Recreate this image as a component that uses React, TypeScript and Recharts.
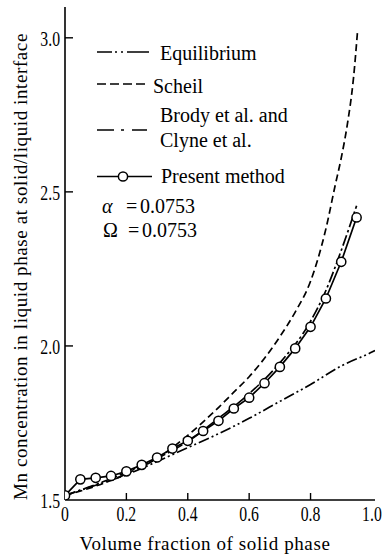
import React from 'react';
import { LineChart, Line, XAxis, YAxis, Legend } from 'recharts';

// ---- data ----
const fsEquilibrium = [0, 0.1, 0.2, 0.3, 0.4, 0.5, 0.6, 0.7, 0.8, 0.9, 1.0, 1.01];
const cEquilibrium = [1.515, 1.548, 1.582, 1.625, 1.67, 1.715, 1.765, 1.82, 1.875, 1.935, 1.98, 1.985];

const fsScheil = [0, 0.1, 0.2, 0.3, 0.4, 0.5, 0.55, 0.6, 0.65, 0.7, 0.75, 0.8, 0.85, 0.88, 0.9, 0.92, 0.94, 0.953];
const cScheil = [1.515, 1.545, 1.585, 1.635, 1.71, 1.8, 1.85, 1.9, 1.96, 2.03, 2.11, 2.21, 2.38, 2.52, 2.61, 2.72, 2.87, 3.02];

const fsBrody = [0, 0.1, 0.2, 0.3, 0.4, 0.5, 0.6, 0.7, 0.8, 0.85, 0.9, 0.95];
const cBrody = [1.515, 1.55, 1.59, 1.635, 1.69, 1.765, 1.845, 1.945, 2.08, 2.18, 2.31, 2.455];

const fsPresent = [0, 0.05, 0.1, 0.15, 0.2, 0.25, 0.3, 0.35, 0.4, 0.45, 0.5, 0.55, 0.6, 0.65, 0.7, 0.75, 0.8, 0.85, 0.9, 0.95];
const cPresent = [1.515, 1.567, 1.572, 1.578, 1.593, 1.614, 1.638, 1.667, 1.692, 1.724, 1.757, 1.797, 1.832, 1.879, 1.932, 1.992, 2.062, 2.154, 2.273, 2.417];

const xTicks = [0, 0.2, 0.4, 0.6, 0.8, 1.0];
const xTickLabels = ['0', '0.2', '0.4', '0.6', '0.8', '1.0'];
const yTicks = [1.5, 2.0, 2.5, 3.0];
const yTickLabels = ['1.5', '2.0', '2.5', '3.0'];

const seriesNames = ['Equilibrium', 'Scheil', 'Brody et al. and Clyne et al.', 'Present method'];
const alphaText = '0.0753';
const omegaText = '0.0753';
const xTitle = 'Volume fraction of solid phase';
const yTitle = 'Mn concentration in liquid phase at solid/liquid interface';

const toPoints = (xs: number[], ys: number[]) => xs.map((x, i) => ({ x, y: ys[i] }));

const FONT = 'Liberation Serif';
const EQ_DASH = '11 3 2 3 2 3';
const SCHEIL_DASH = '7 4';
const BRODY_DASH = '11 3 2.5 3';
const SW = 1.7;

const XTick = (props: any) => {
  const { x, y, payload } = props;
  const i = xTicks.indexOf(payload.value);
  const inner = payload.value > 0 && payload.value < 1;
  return (
    <g>
      {inner && <line x1={x} x2={x} y1={y} y2={y - 7} stroke="#000" strokeWidth={1.4} />}
      <text
        transform={`translate(${x},${y + 21}) scale(0.75,1)`}
        textAnchor="middle"
        style={{ fontFamily: FONT, fontSize: 21 }}
        fill="#000"
      >
        {xTickLabels[i]}
      </text>
    </g>
  );
};

const YTick = (props: any) => {
  const { x, y, payload } = props;
  const i = yTicks.indexOf(payload.value);
  const inner = payload.value > 1.5;
  return (
    <g>
      {inner && <line x1={x} x2={x + 8} y1={y} y2={y} stroke="#000" strokeWidth={1.4} />}
      <text
        transform={`translate(${x - 5},${y + 8}) scale(0.75,1)`}
        textAnchor="end"
        style={{ fontFamily: FONT, fontSize: 21 }}
        fill="#000"
      >
        {yTickLabels[i]}
      </text>
    </g>
  );
};

const YTitle = () => (
  <text
    transform="translate(27,500) rotate(-90)"
    style={{ fontFamily: FONT, fontSize: 19, letterSpacing: 0.6 }}
    fill="#000"
  >
    {yTitle}
  </text>
);

const XTitle = () => (
  <text x={205} y={550} textAnchor="middle" style={{ fontFamily: FONT, fontSize: 19, letterSpacing: 0.6 }} fill="#000">
    {xTitle}
  </text>
);

const LegendBox = () => (
  <svg width={383} height={250} style={{ display: 'block', overflow: 'visible' }}>
    <g style={{ fontFamily: FONT, fontSize: 20 }} fill="#000">
      <line x1={97} x2={149} y1={52} y2={52} stroke="#000" strokeWidth={SW} strokeDasharray="15 3 2 4 2 4 22" />
      <text x={160} y={60}>{seriesNames[0]}</text>

      <line x1={97} x2={145} y1={84} y2={84} stroke="#000" strokeWidth={SW} strokeDasharray="9 4" />
      <text x={153} y={92.5}>{seriesNames[1]}</text>

      <line x1={97} x2={147} y1={130} y2={130} stroke="#000" strokeWidth={SW} strokeDasharray="17 7 3 8 15" />
      <text x={160} y={121.5}>Brody et al. and</text>
      <text x={160} y={146.5}>Clyne et al.</text>

      <line x1={97} x2={152} y1={176.5} y2={176.5} stroke="#000" strokeWidth={SW} />
      <circle cx={123} cy={176.5} r={4.6} fill="#fff" stroke="#000" strokeWidth={1.5} />
      <text x={161} y={183}>{seriesNames[3]}</text>

      <text y={213}>
        <tspan x={102} fontStyle="italic">α</tspan>
        <tspan x={126}>=</tspan>
        <tspan x={140}>{alphaText}</tspan>
      </text>
      <text y={237}>
        <tspan x={103}>Ω</tspan>
        <tspan x={128}>=</tspan>
        <tspan x={142}>{omegaText}</tspan>
      </text>
    </g>
  </svg>
);

export default function App() {
  return (
    <div style={{ position: 'absolute', left: 0, top: 0, width: 383, height: 555, background: '#fff' }}>
      <LineChart width={383} height={555} margin={{ top: 7, right: 8, bottom: 0, left: 0 }}>
        <XAxis
          dataKey="x"
          type="number"
          domain={[0, 1.01]}
          ticks={xTicks}
          allowDataOverflow
          height={55}
          tickSize={0}
          tickMargin={0}
          tickLine={false}
          tick={<XTick />}
          axisLine={{ stroke: '#000', strokeWidth: 1.6 }}
          label={<XTitle />}
        />
        <XAxis
          xAxisId="top"
          orientation="top"
          type="number"
          domain={[0, 1.01]}
          height={0}
          tick={false}
          tickLine={false}
          axisLine={{ stroke: '#000', strokeWidth: 1.6 }}
        />
        <YAxis
          type="number"
          domain={[1.5, 3.1]}
          ticks={yTicks}
          allowDataOverflow
          width={65}
          tickSize={0}
          tickMargin={0}
          tickLine={false}
          tick={<YTick />}
          axisLine={{ stroke: '#000', strokeWidth: 1.6 }}
          label={<YTitle />}
        />
        <YAxis
          yAxisId="right"
          orientation="right"
          type="number"
          domain={[1.5, 3.1]}
          width={0}
          tick={false}
          tickLine={false}
          axisLine={{ stroke: '#000', strokeWidth: 1.6 }}
        />
        <Legend
          layout="horizontal"
          verticalAlign="middle"
          align="center"
          content={<LegendBox />}
          wrapperStyle={{ position: 'absolute', left: 0, top: 0, width: 383, height: 250, pointerEvents: 'none' }}
        />
        <Line
          name={seriesNames[0]}
          data={toPoints(fsEquilibrium, cEquilibrium)}
          dataKey="y"
          type="monotone"
          stroke="#000"
          strokeWidth={SW}
          strokeDasharray={EQ_DASH}
          dot={false}
          isAnimationActive={false}
        />
        <Line
          name={seriesNames[1]}
          data={toPoints(fsScheil, cScheil)}
          dataKey="y"
          type="monotone"
          stroke="#000"
          strokeWidth={SW}
          strokeDasharray={SCHEIL_DASH}
          dot={false}
          isAnimationActive={false}
        />
        <Line
          name={seriesNames[2]}
          data={toPoints(fsBrody, cBrody)}
          dataKey="y"
          type="monotone"
          stroke="#000"
          strokeWidth={SW}
          strokeDasharray={BRODY_DASH}
          dot={false}
          isAnimationActive={false}
        />
        <Line
          name={seriesNames[3]}
          data={toPoints(fsPresent, cPresent)}
          dataKey="y"
          type="linear"
          stroke="#000"
          strokeWidth={SW}
          dot={{ r: 4.6, fill: '#fff', stroke: '#000', strokeWidth: 1.5 }}
          isAnimationActive={false}
        />
      </LineChart>
    </div>
  );
}
